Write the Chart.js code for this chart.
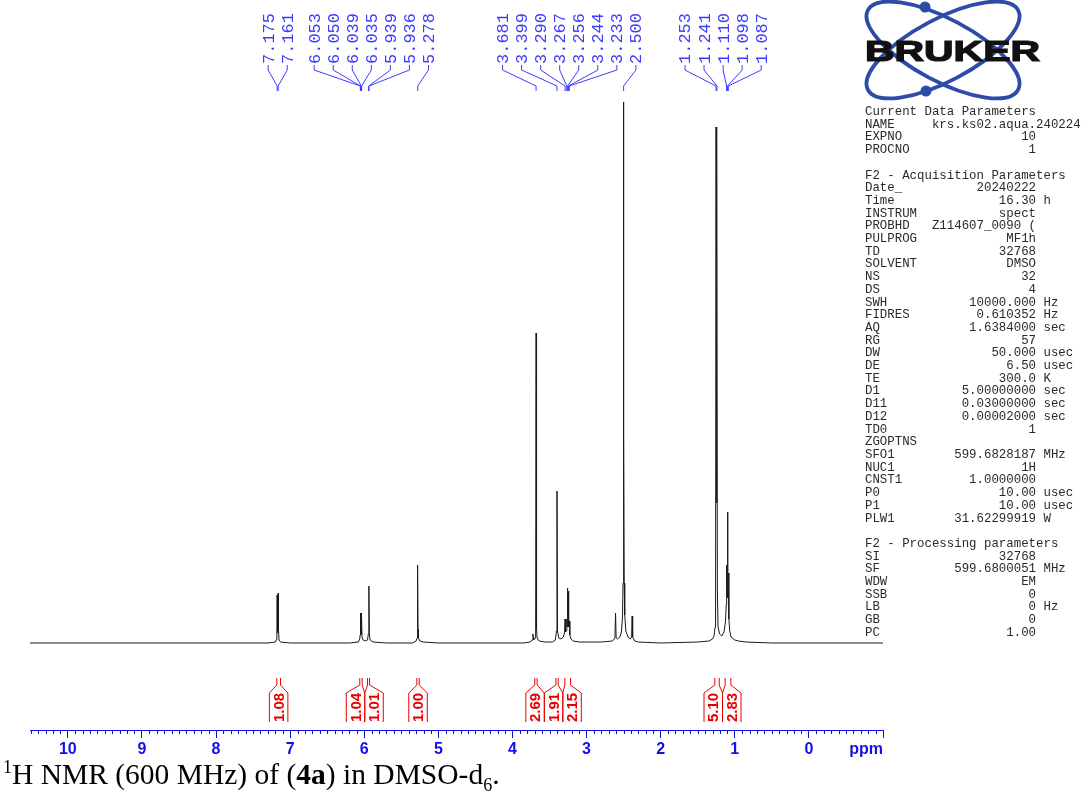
<!DOCTYPE html>
<html>
<head>
<meta charset="utf-8">
<script src="https://cdn.jsdelivr.net/npm/chart.js@4.4.1/dist/chart.umd.min.js"></script>
<style>
  html, body { margin: 0; padding: 0; background: #fff; }
  #wrap { position: relative; width: 1082px; height: 800px; overflow: hidden; }
  #canvas { position: absolute; left: 0; top: 0; }
  #params { position: absolute; left: 865px; top: 106px; margin: 0; font: 12.4px/12.7px "Liberation Mono", monospace; color: #2a2a2a; white-space: pre; }
  #logo { position: absolute; left: 850px; top: 0; }
  #caption { position: absolute; left: 3px; top: 760px; font: 29.5px/29px "Liberation Serif", serif; color: #000; white-space: nowrap; }
  #caption sup, #caption sub { font-size: 18px; line-height: 0; }
</style>
</head>
<body>
<div id="wrap">
  <canvas id="canvas" width="1082" height="800"></canvas>
  <svg id="logo" width="220" height="102" viewBox="850 0 220 102">
    <ellipse cx="943" cy="50" rx="85" ry="31" transform="rotate(28 943 50)" fill="none" stroke="#2d4ca8" stroke-width="3.8"/>
    <ellipse cx="943" cy="50" rx="85" ry="31" transform="rotate(-28 943 50)" fill="none" stroke="#2d4ca8" stroke-width="3.8"/>
    <circle cx="925" cy="7" r="5.5" fill="#2d4ca8"/>
    <circle cx="926" cy="91" r="5.5" fill="#2d4ca8"/>
    <text x="865" y="61" textLength="175" lengthAdjust="spacingAndGlyphs" font-family="Liberation Sans, Arial, sans-serif" font-weight="bold" font-size="29" fill="#111" stroke="#111" stroke-width="1.2">BRUKER</text>
  </svg>
  <pre id="params"></pre>
  <div id="caption"><sup>1</sup>H NMR (600 MHz) of (<b>4a</b>) in DMSO-d<sub>6</sub>.</div>
</div>
<script>
// spectrum (ppm, height above baseline)
const spectrumPpm = [
  10.51, 7.30, 7.20, 7.185, 7.179, 7.175, 7.171, 7.168, 7.165, 7.161, 7.157, 7.150, 7.13, 7.00,
  6.20, 6.08, 6.060, 6.056, 6.053, 6.051, 6.050, 6.045, 6.042, 6.039, 6.037, 6.035, 6.030, 6.015,
  5.980, 5.955, 5.945, 5.939, 5.937, 5.936, 5.931, 5.920, 5.880, 5.70,
  5.35, 5.300, 5.287, 5.282, 5.278, 5.274, 5.268, 5.250, 5.20, 5.00,
  3.85, 3.76, 3.735, 3.724, 3.712, 3.695, 3.687, 3.681, 3.675, 3.667, 3.640, 3.560,
  3.460, 3.420, 3.406, 3.399, 3.392, 3.375, 3.345,
  3.315, 3.297, 3.290, 3.284, 3.276, 3.267, 3.261, 3.256, 3.250, 3.244, 3.239, 3.233, 3.226, 3.210, 3.180, 3.100,
  2.800, 2.650, 2.617, 2.609, 2.601, 2.580, 2.550, 2.530, 2.515, 2.508, 2.503, 2.500, 2.497, 2.492, 2.485, 2.470,
  2.440, 2.410, 2.392, 2.385, 2.378, 2.350, 2.300, 2.000,
  1.500, 1.350, 1.300, 1.280, 1.266, 1.259, 1.253, 1.247, 1.241, 1.235, 1.226, 1.205, 1.175,
  1.145, 1.125, 1.116, 1.110, 1.104, 1.098, 1.092, 1.087, 1.080, 1.068, 1.050, 1.000, 0.950, 0.850, 0.500, -1.00
];
const spectrumIntensity = [
  0, 0, 1, 3, 12, 48, 12, 10, 14, 50, 14, 3, 1, 0,
  0, 1, 4, 8, 30, 26, 29, 8, 9, 30, 26, 28, 6, 3,
  2, 3, 9, 57, 50, 56, 9, 3, 1, 0,
  0, 2, 5, 14, 78, 14, 5, 2, 1, 0,
  0, 1, 3, 9, 3, 5, 14, 310, 14, 5, 2, 1,
  1, 3, 12, 152, 12, 5, 4,
  6, 10, 24, 11, 12, 24, 16, 55, 28, 52, 16, 22, 8, 4, 2, 1,
  1, 2, 5, 30, 5, 4, 6, 11, 26, 60, 200, 541, 210, 60, 28, 12,
  6, 4, 6, 27, 6, 2, 1, 0,
  1, 2, 4, 7, 16, 55, 516, 140, 505, 55, 16, 9, 7,
  11, 22, 38, 78, 48, 131, 45, 70, 24, 12, 6, 3, 2, 1, 0, 0
];

// picked peaks (ppm)
const peakShifts = [7.175, 7.161, 6.053, 6.050, 6.039, 6.035, 5.939, 5.936, 5.278,
  3.681, 3.399, 3.290, 3.267, 3.256, 3.244, 3.233, 2.500,
  1.253, 1.241, 1.110, 1.098, 1.087];

// integral regions (ppm) and values
const integralStart = [7.180, 6.060, 5.955, 5.290, 3.698, 3.414, 3.293, 1.269, 1.130];
const integralEnd   = [7.130, 6.028, 5.928, 5.258, 3.667, 3.383, 3.216, 1.210, 1.053];
const integralValues = ['1.08', '1.04', '1.01', '1.00', '2.69', '1.91', '2.15', '5.10', '2.83'];

const axisMin = -1.0, axisMax = 10.51;

const AXIS_BLUE = '#1010e8';
const PEAK_BLUE = '#3c3cff';
const INT_RED = '#e80000';

// acquisition parameters text block
const paramRows = [
  'Current Data Parameters',
  'NAME     krs.ks02.aqua.240224',
  ['EXPNO', '10'], ['PROCNO', '1'],
  '',
  'F2 - Acquisition Parameters',
  ['Date_', '20240222'], ['Time', '16.30', 'h'], ['INSTRUM', 'spect'],
  ['PROBHD', 'Z114607_0090 ('], ['PULPROG', 'MF1h'], ['TD', '32768'],
  ['SOLVENT', 'DMSO'], ['NS', '32'], ['DS', '4'],
  ['SWH', '10000.000', 'Hz'], ['FIDRES', '0.610352', 'Hz'], ['AQ', '1.6384000', 'sec'],
  ['RG', '57'], ['DW', '50.000', 'usec'], ['DE', '6.50', 'usec'], ['TE', '300.0', 'K'],
  ['D1', '5.00000000', 'sec'], ['D11', '0.03000000', 'sec'], ['D12', '0.00002000', 'sec'],
  ['TD0', '1'], 'ZGOPTNS', ['SFO1', '599.6828187', 'MHz'], ['NUC1', '1H'],
  ['CNST1', '1.0000000'], ['P0', '10.00', 'usec'], ['P1', '10.00', 'usec'],
  ['PLW1', '31.62299919', 'W'],
  '',
  'F2 - Processing parameters',
  ['SI', '32768'], ['SF', '599.6800051', 'MHz'], ['WDW', 'EM'], ['SSB', '0'],
  ['LB', '0', 'Hz'], ['GB', '0'], ['PC', '1.00']
];
document.getElementById('params').textContent = paramRows.map(r => {
  if (typeof r === 'string') return r;
  const [name, val, unit] = r;
  return name.padEnd(23 - val.length) + val + (unit ? ' ' + unit : '');
}).join('\n');

// push labels apart so they keep a minimum gap, each group centred on its peaks
function spreadLabels(centers, gap) {
  let groups = centers.map(c => ({ n: 1, sum: c }));
  let merged = true;
  while (merged) {
    merged = false;
    for (let i = 0; i < groups.length - 1; i++) {
      const a = groups[i], b = groups[i + 1];
      const aEnd = a.sum / a.n + (a.n - 1) * gap / 2;
      const bStart = b.sum / b.n - (b.n - 1) * gap / 2;
      if (bStart - aEnd < gap) {
        groups.splice(i, 2, { n: a.n + b.n, sum: a.sum + b.sum });
        merged = true;
        break;
      }
    }
  }
  const out = [];
  groups.forEach(g => {
    const m = g.sum / g.n;
    for (let k = 0; k < g.n; k++) out.push(m + (k - (g.n - 1) / 2) * gap);
  });
  return out;
}

const nmrDecor = {
  id: 'nmrDecor',
  afterDraw(chart) {
    const ctx = chart.ctx;
    const xs = chart.scales.x;
    const area = chart.chartArea;
    ctx.save();

    // minor ticks every 0.1 ppm
    ctx.strokeStyle = AXIS_BLUE;
    ctx.lineWidth = 1;
    for (let i = Math.ceil(axisMin * 10); i <= Math.floor(axisMax * 10); i++) {
      if (i % 10 === 0) continue;
      const x = Math.round(xs.getPixelForValue(i / 10)) + 0.5;
      ctx.beginPath();
      ctx.moveTo(x, area.bottom);
      ctx.lineTo(x, area.bottom + 4);
      ctx.stroke();
    }
    ctx.fillStyle = AXIS_BLUE;
    ctx.font = 'bold 16px "Liberation Sans", Arial, sans-serif';
    ctx.textAlign = 'right';
    ctx.textBaseline = 'alphabetic';
    ctx.fillText('ppm', area.right, 754);

    // peak labels
    const pxs = peakShifts.map(p => xs.getPixelForValue(p));
    const lxs = spreadLabels(pxs, 19.05);
    ctx.strokeStyle = PEAK_BLUE;
    ctx.fillStyle = PEAK_BLUE;
    ctx.font = '17px "Liberation Mono", monospace';
    peakShifts.forEach((p, i) => {
      ctx.beginPath();
      ctx.moveTo(lxs[i], 65);
      ctx.lineTo(lxs[i], 70);
      ctx.lineTo(pxs[i], 86);
      ctx.lineTo(pxs[i], 91);
      ctx.stroke();
      ctx.save();
      ctx.translate(lxs[i], 64);
      ctx.rotate(-Math.PI / 2);
      ctx.textAlign = 'left';
      ctx.textBaseline = 'middle';
      ctx.fillText(p.toFixed(3), 0, 1);
      ctx.restore();
    });

    // integrals
    const bw = 18.5;
    const mids = integralStart.map((s, i) => xs.getPixelForValue((s + integralEnd[i]) / 2));
    const boxes = spreadLabels(mids, bw);
    ctx.strokeStyle = INT_RED;
    ctx.fillStyle = INT_RED;
    ctx.font = 'bold 15px "Liberation Sans", Arial, sans-serif';
    integralValues.forEach((v, i) => {
      const xl = xs.getPixelForValue(integralStart[i]);
      const xr = xs.getPixelForValue(integralEnd[i]);
      const bc = boxes[i];
      ctx.beginPath();
      ctx.moveTo(xl, 678); ctx.lineTo(xl, 685);
      ctx.lineTo(bc - bw / 2, 693); ctx.lineTo(bc - bw / 2, 722);
      ctx.moveTo(xr, 678); ctx.lineTo(xr, 685);
      ctx.lineTo(bc + bw / 2, 693); ctx.lineTo(bc + bw / 2, 722);
      ctx.stroke();
      ctx.save();
      ctx.translate(bc, 707.5);
      ctx.rotate(-Math.PI / 2);
      ctx.textAlign = 'center';
      ctx.textBaseline = 'middle';
      ctx.fillText(v, 0, 1);
      ctx.restore();
    });

    ctx.restore();
  }
};

const ctx = document.getElementById('canvas').getContext('2d');
new Chart(ctx, {
  type: 'line',
  data: {
    datasets: [{
      data: spectrumPpm.map((p, i) => ({ x: p, y: spectrumIntensity[i] })),
      borderColor: '#1a1a1a',
      borderWidth: 1,
      pointRadius: 0,
      tension: 0,
      fill: false
    }]
  },
  options: {
    responsive: false,
    devicePixelRatio: 1,
    animation: false,
    layout: { padding: { left: 30, right: 199, top: 100, bottom: 40 } },
    plugins: { legend: { display: false }, tooltip: { enabled: false } },
    scales: {
      x: {
        type: 'linear',
        reverse: true,
        min: axisMin,
        max: axisMax,
        afterFit: scale => { scale.height = 30; },
        border: { display: true, color: AXIS_BLUE, width: 1 },
        grid: { drawOnChartArea: false, drawTicks: true, tickLength: 8, color: AXIS_BLUE },
        ticks: {
          stepSize: 1,
          includeBounds: false,
          autoSkip: false,
          maxRotation: 0,
          padding: 2,
          color: AXIS_BLUE,
          font: { family: '"Liberation Sans", Arial, sans-serif', size: 16, weight: 'bold' },
          callback: v => (v >= 0 && Number.isInteger(v)) ? String(v) : ''
        }
      },
      y: { display: false, min: -87, max: 543 }
    }
  },
  plugins: [nmrDecor]
});
</script>
</body>
</html>
